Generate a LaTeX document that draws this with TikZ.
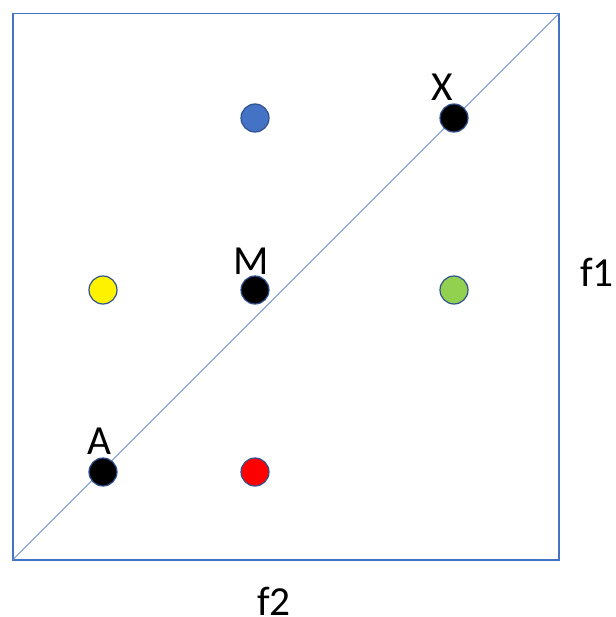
\documentclass[tikz,border=0pt]{standalone}
\usepackage{fontspec}
\setmainfont{Carlito}
\definecolor{offblue}{HTML}{4472C4}
\definecolor{darkedge}{HTML}{2F528F}
\definecolor{lgreen}{HTML}{92D050}
\begin{document}
\begin{tikzpicture}[x=0.75pt,y=-0.75pt,
  dot/.style={circle,draw=darkedge,line width=0.9pt,minimum size=21pt,inner sep=0pt},
  lbl/.style={font=\fontsize{31}{36}\selectfont,inner sep=0pt}]
\useasboundingbox (0,0) rectangle (615,617);
\node[draw=offblue,line width=1.3pt,minimum width=546*0.75pt,minimum height=546.5*0.75pt,inner sep=0pt] (frame) at (285.75,286.75) {};
\coordinate (bl) at (12.5,560);
\coordinate (tr) at (559,13.5);
\draw[offblue!80,line width=0.6pt] (bl) -- (tr);
\node[dot,fill=offblue] (blue) at (255,118) {};
\node[dot,fill=black] (X) at (454,118) {};
\node[dot,fill=yellow] (yellow) at (103,290) {};
\node[dot,fill=black] (M) at (255,290) {};
\node[dot,fill=lgreen] (green) at (454,290) {};
\node[dot,fill=black] (A) at (103,472) {};
\node[dot,fill=red] (red) at (255,472) {};
\node[lbl] (lX) at (442,87) {X};
\node[lbl] (lM) at (251,261) {M};
\node[lbl] (lA) at (99,441) {A};
\node[lbl] (f1) at (597,272) {f1};
\node[lbl] (f2) at (274,601) {f2};
\end{tikzpicture}
\end{document}
